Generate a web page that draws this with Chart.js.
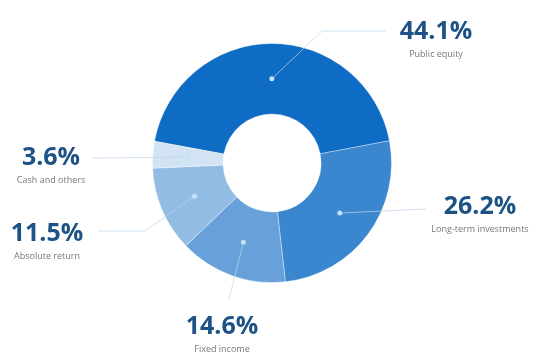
<!DOCTYPE html>
<html>
<head>
<meta charset="utf-8">
<script src="https://cdn.jsdelivr.net/npm/chart.js@4/dist/chart.umd.min.js"></script>
<style>
  html, body { margin: 0; padding: 0; background: #ffffff; }
  #wrap { position: relative; width: 545px; height: 359px; }
</style>
</head>
<body>
<div id="wrap"><canvas id="c" width="545" height="359"></canvas></div>
<script>
// ---- data ----
const categories = ["Public equity", "Long-term investments", "Fixed income", "Absolute return", "Cash and others"];
const shares = [44.1, 26.2, 14.6, 11.5, 3.6];
const valueLabels = ["44.1%", "26.2%", "14.6%", "11.5%", "3.6%"];

// ---- styles / layout (annotation placement, not data) ----
const sliceColors = ["#0f6cc4", "#3a87cf", "#68a1da", "#93bce5", "#d2e4f4"];
// leader-line path points after the dot, and label anchor, in canvas px
const leaderPaths = [
  [[322, 31], [386, 31]],
  [[426, 209]],
  [[229, 299]],
  [[145, 231], [98, 231]],
  [[92, 158]]
];
const labelAnchors = [[436, 32], [480, 207], [222, 327], [47, 234], [51, 158]];

const labelPlugin = {
  id: 'leaderLabels',
  afterDatasetsDraw(chart) {
    const ctx = chart.ctx;
    const meta = chart.getDatasetMeta(0);
    meta.data.forEach((arc, i) => {
      const p = arc.tooltipPosition();
      ctx.save();
      ctx.strokeStyle = 'rgba(190,212,232,0.7)';
      ctx.lineWidth = 1;
      ctx.beginPath();
      ctx.moveTo(p.x, p.y);
      leaderPaths[i].forEach(pt => ctx.lineTo(pt[0], pt[1]));
      ctx.stroke();
      ctx.fillStyle = '#c4e2fa';
      ctx.beginPath();
      ctx.arc(p.x, p.y, 2.5, 0, Math.PI * 2);
      ctx.fill();
      const a = labelAnchors[i];
      ctx.textAlign = 'center';
      ctx.textBaseline = 'middle';
      ctx.fillStyle = '#1d5285';
      ctx.font = '700 25px "Open Sans", sans-serif';
      ctx.fillText(valueLabels[i], a[0], a[1]);
      ctx.fillStyle = '#777777';
      ctx.font = '400 9px "Open Sans", sans-serif';
      ctx.fillText(categories[i], a[0], a[1] + 22);
      ctx.restore();
    });
  }
};

new Chart(document.getElementById('c'), {
  type: 'doughnut',
  data: {
    labels: categories,
    datasets: [{
      data: shares,
      backgroundColor: sliceColors,
      borderColor: 'rgba(255,255,255,0.35)',
      borderWidth: 1
    }]
  },
  options: {
    responsive: false,
    animation: false,
    cutout: '41%',
    rotation: -79.5,
    layout: { padding: { top: 43, bottom: 76, left: 152, right: 153 } },
    plugins: {
      legend: { display: false },
      tooltip: { enabled: false }
    }
  },
  plugins: [labelPlugin]
});
</script>
</body>
</html>
